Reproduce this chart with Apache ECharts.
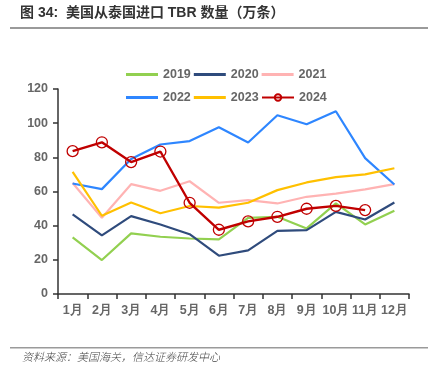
<!DOCTYPE html>
<html>
<head>
<meta charset="utf-8">
<script src="https://cdn.jsdelivr.net/npm/echarts@6/dist/echarts.min.js"></script>
<style>
  html,body{margin:0;padding:0;background:#fff;}
  #chart{width:431px;height:377px;}
</style>
</head>
<body>
<div id="chart"></div>
<script>
// months + yearly series (万条)
let months = ['1月','2月','3月','4月','5月','6月','7月','8月','9月','10月','11月','12月'];
let y2019 = [33.1,19.9,35.5,33.5,32.5,32.0,44.6,45.2,38.4,53.0,40.7,48.7];
let y2020 = [46.6,34.3,45.6,40.7,35.0,22.4,25.5,37.0,37.4,48.1,43.6,53.6];
let y2021 = [65.0,44.6,64.3,60.4,66.0,53.4,55.0,53.0,56.9,58.8,61.2,64.3];
let y2022 = [64.7,61.4,79.0,87.5,89.5,97.6,88.7,104.6,99.4,107.0,79.5,64.1];
let y2023 = [71.5,45.8,53.6,47.3,51.5,50.6,53.4,60.8,65.3,68.4,70.0,73.6];
let y2024 = [83.6,88.8,77.2,83.4,53.4,37.6,42.5,45.2,49.9,51.6,49.1];
let yTicks = [0,20,40,60,80,100,120];

let chart = echarts.init(document.getElementById('chart'));

function ln(name,data,color){
  return {
    name:name,
    type:'line',
    data:data,
    symbol:'none',
    lineStyle:{color:color,width:2.2},
    itemStyle:{color:color},
    emphasis:{disabled:true},
    z:2
  };
}

let lblFont = {color:'#666',fontSize:12.5,fontWeight:'bold',fontFamily:'Liberation Sans, Arial, sans-serif'};

chart.setOption({
  animation:false,
  grid:{left:58,right:22,top:89,bottom:83},
  legend:[
    {
      data:['2019','2020','2021'],
      icon:'rect',
      left:121,top:63,itemWidth:32,itemHeight:3,itemGap:3,
      textStyle:lblFont
    },
    {
      data:['2022','2023'],
      icon:'rect',
      left:121,top:86,itemWidth:32,itemHeight:3,itemGap:3,
      textStyle:lblFont
    },
    {
      data:['2024'],
      left:256,top:86,itemWidth:32,itemHeight:8,
      textStyle:lblFont
    }
  ],
  xAxis:{
    type:'category',
    data:months,
    boundaryGap:true,
    axisLine:{lineStyle:{color:'#333',width:1.5}},
    axisTick:{show:true,alignWithLabel:false,length:5,lineStyle:{color:'#333',width:1.5}},
    axisLabel:Object.assign({margin:10,interval:0},lblFont)
  },
  yAxis:{
    type:'value',
    min:0,max:120,interval:20,
    axisLine:{show:true,lineStyle:{color:'#333',width:1.5}},
    axisTick:{show:true,length:5,lineStyle:{color:'#333',width:1.5}},
    splitLine:{show:false},
    axisLabel:Object.assign({margin:10,formatter:function(v){return yTicks.indexOf(v)>=0?String(v):'';}},lblFont)
  },
  series:[
    ln('2019',y2019,'#92D050'),
    ln('2020',y2020,'#2F4B7C'),
    ln('2021',y2021,'#FFB3B3'),
    ln('2022',y2022,'#2E86FF'),
    ln('2023',y2023,'#FFC000'),
    {
      name:'2024',
      type:'line',
      data:y2024,
      symbol:'circle',
      symbolSize:11,
      showSymbol:true,
      lineStyle:{color:'#C00000',width:2.4},
      itemStyle:{color:'rgba(255,255,255,0)',borderColor:'#C00000',borderWidth:1.3},
      emphasis:{disabled:true},
      z:3
    }
  ],
  graphic:[
    {
      type:'text',left:20,top:6,
      style:{text:'图 34:  美国从泰国进口 TBR 数量（万条）',fill:'#333',fontSize:14,fontWeight:'bold',
        fontFamily:'Liberation Sans, "Noto Sans CJK SC", sans-serif'}
    },
    {
      type:'rect',shape:{x:10,y:27,width:418,height:2},style:{fill:'#9a9a9a'}
    },
    {
      type:'rect',shape:{x:10,y:347,width:418,height:1.5},style:{fill:'#9a9a9a'}
    },
    {
      type:'text',left:22,top:351,
      style:{text:'资料来源：美国海关，信达证券研发中心',fill:'#444',fontSize:11,fontStyle:'italic',fontWeight:300,
        fontFamily:'"Noto Sans CJK SC", sans-serif'}
    }
  ]
});
</script>
</body>
</html>
